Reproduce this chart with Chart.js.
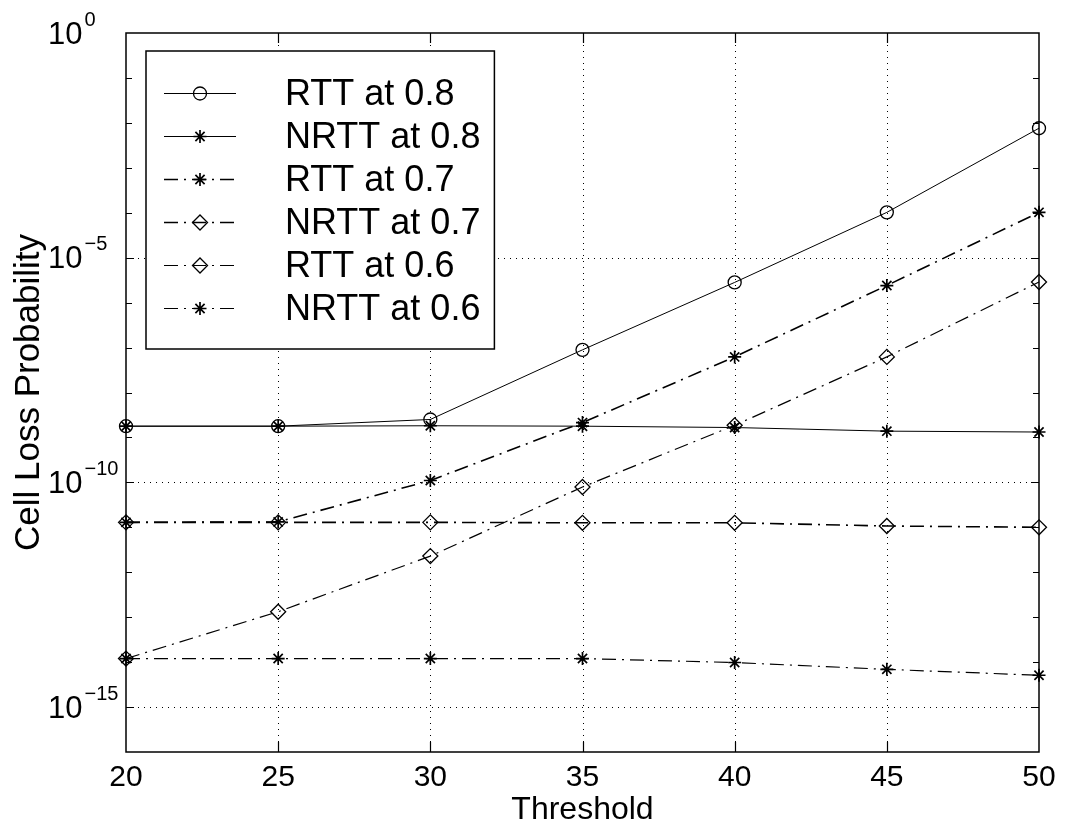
<!DOCTYPE html>
<html>
<head>
<meta charset="utf-8">
<script src="https://cdn.jsdelivr.net/npm/chart.js@4.4.0/dist/chart.umd.min.js"></script>
<style>
  html, body { margin: 0; padding: 0; background: #fff; }
  #wrap { width: 1069px; height: 829px; }
</style>
</head>
<body>
<div id="wrap"><canvas id="chart" width="1069" height="829"></canvas></div>
<script>
// thresholds on the x axis
const thresholds = [20, 25, 30, 35, 40, 45, 50];

// cell loss probability
const rtt08  = [1.78e-9, 1.78e-9, 2.51e-9, 8.9e-8, 2.82e-6, 1.02e-4, 7.6e-3];
const nrtt08 = [1.78e-9, 1.78e-9, 1.82e-9, 1.78e-9, 1.66e-9, 1.38e-9, 1.32e-9];
const rtt07  = [1.29e-11, 1.32e-11, 1.10e-10, 2.14e-9, 6.2e-8, 2.4e-6, 1.02e-4];
const nrtt07 = [1.29e-11, 1.29e-11, 1.29e-11, 1.26e-11, 1.26e-11, 1.07e-11, 1.0e-11];
const rtt06  = [1.2e-14, 1.32e-13, 2.29e-12, 7.9e-11, 1.86e-9, 6.2e-8, 2.88e-6];
const nrtt06 = [1.2e-14, 1.2e-14, 1.2e-14, 1.2e-14, 9.8e-15, 6.9e-15, 5.1e-15];

const seriesLabels = ['RTT at 0.8', 'NRTT at 0.8', 'RTT at 0.7', 'NRTT at 0.7', 'RTT at 0.6', 'NRTT at 0.6'];
const yLabelExponents = [0, -5, -10, -15];
const xTickValues = [20, 25, 30, 35, 40, 45, 50];

const FONT = '"Liberation Sans", Arial, Helvetica, sans-serif';
const dashDot = [14, 6, 2, 6];

function pts(arr) {
  return thresholds.map((t, i) => ({ x: t, y: arr[i] }));
}

function makeSet(label, arr, style, dash, width) {
  return {
    label: label,
    data: pts(arr),
    borderColor: '#000',
    backgroundColor: 'rgba(0,0,0,0)',
    borderWidth: width,
    borderDash: dash,
    pointStyle: style,
    pointRadius: style === 'rectRot' ? 7.5 : 6.5,
    pointBorderColor: '#000',
    pointBackgroundColor: 'rgba(0,0,0,0)',
    pointBorderWidth: style === 'star' ? 1.7 : 1.3,
    tension: 0,
    clip: false
  };
}

// grid, box, inward ticks, y labels and legend in MATLAB style
const matlabAxes = {
  id: 'matlabAxes',
  beforeDatasetsDraw(chart) {
    const { ctx, chartArea: a, scales: { x, y } } = chart;
    ctx.save();
    ctx.strokeStyle = '#000';
    ctx.lineWidth = 1;
    ctx.setLineDash([1, 5]);
    xTickValues.slice(1, -1).forEach(v => {
      const px = Math.round(x.getPixelForValue(v)) + 0.5;
      ctx.beginPath(); ctx.moveTo(px, a.top); ctx.lineTo(px, a.bottom); ctx.stroke();
    });
    yLabelExponents.filter(e => e !== 0).forEach(e => {
      const py = Math.round(y.getPixelForValue(Math.pow(10, e))) + 0.5;
      ctx.beginPath(); ctx.moveTo(a.left, py); ctx.lineTo(a.right, py); ctx.stroke();
    });
    ctx.restore();
  },
  afterDatasetsDraw(chart) {
    const { ctx, chartArea: a, scales: { x, y } } = chart;
    ctx.save();
    ctx.strokeStyle = '#000';
    ctx.lineWidth = 1.5;
    ctx.setLineDash([]);
    ctx.strokeRect(a.left, a.top, a.right - a.left, a.bottom - a.top);

    // x ticks, bottom and top
    ctx.lineWidth = 1.2;
    xTickValues.slice(1, -1).forEach(v => {
      const px = Math.round(x.getPixelForValue(v)) + 0.5;
      ctx.beginPath();
      ctx.moveTo(px, a.bottom); ctx.lineTo(px, a.bottom - 10);
      ctx.moveTo(px, a.top); ctx.lineTo(px, a.top + 10);
      ctx.stroke();
    });
    // y ticks at every decade, left and right
    for (let e = -15; e <= -1; e++) {
      const py = Math.round(y.getPixelForValue(Math.pow(10, e))) + 0.5;
      const len = e % 5 === 0 ? 8 : 6;
      ctx.beginPath();
      ctx.moveTo(a.left, py); ctx.lineTo(a.left + len, py);
      ctx.moveTo(a.right, py); ctx.lineTo(a.right - len, py);
      ctx.stroke();
    }

    // y labels 10^n
    ctx.fillStyle = '#000';
    ctx.textBaseline = 'middle';
    ctx.textAlign = 'left';
    yLabelExponents.forEach(e => {
      const py = y.getPixelForValue(Math.pow(10, e));
      ctx.font = '31px ' + FONT;
      ctx.fillText('10', 48, py + 2);
      const w = ctx.measureText('10').width;
      ctx.font = '20px ' + FONT;
      ctx.fillText(e === 0 ? '0' : '\u2212' + (-e), 48 + w + 2, py - 13);
    });

    // legend
    const sets = chart.data.datasets;
    const boxL = 146, boxT = 51, rowH = 43, firstRow = 93;
    const lineX0 = 164, lineX1 = 236, markX = 200, textX = 285;
    ctx.font = '36px ' + FONT;
    const maxW = Math.max(...sets.map(s => ctx.measureText(s.label).width));
    const boxR = textX + maxW + 14;
    const boxB = firstRow + rowH * (sets.length - 1) + 41;
    ctx.fillStyle = '#fff';
    ctx.fillRect(boxL, boxT, boxR - boxL, boxB - boxT);
    ctx.lineWidth = 1.5;
    ctx.strokeStyle = '#000';
    ctx.strokeRect(boxL, boxT, boxR - boxL, boxB - boxT);
    sets.forEach((s, i) => {
      const ry = firstRow + rowH * i;
      ctx.save();
      ctx.lineWidth = s.borderWidth;
      ctx.setLineDash(s.borderDash);
      ctx.beginPath(); ctx.moveTo(lineX0, ry + 0.5); ctx.lineTo(lineX1, ry + 0.5); ctx.stroke();
      ctx.restore();
      ctx.save();
      ctx.lineWidth = s.pointBorderWidth;
      ctx.strokeStyle = '#000';
      ctx.fillStyle = 'rgba(0,0,0,0)';
      Chart.helpers.drawPoint(ctx, { pointStyle: s.pointStyle, radius: s.pointRadius, rotation: 0, borderWidth: s.pointBorderWidth }, markX, ry + 0.5);
      ctx.restore();
      ctx.fillStyle = '#000';
      ctx.font = '36px ' + FONT;
      ctx.textBaseline = 'middle';
      ctx.fillText(s.label, textX, ry + 2);
    });
    ctx.restore();
  }
};

new Chart(document.getElementById('chart'), {
  type: 'line',
  data: {
    datasets: [
      makeSet(seriesLabels[0], rtt08, 'circle', [], 1),
      makeSet(seriesLabels[1], nrtt08, 'star', [], 1),
      makeSet(seriesLabels[2], rtt07, 'star', dashDot, 1.6),
      makeSet(seriesLabels[3], nrtt07, 'rectRot', dashDot, 1.6),
      makeSet(seriesLabels[4], rtt06, 'rectRot', dashDot, 1.2),
      makeSet(seriesLabels[5], nrtt06, 'star', dashDot, 1.2)
    ]
  },
  options: {
    responsive: false,
    animation: false,
    devicePixelRatio: 1,
    layout: { padding: { left: 0, right: 30, top: 33, bottom: 0 } },
    plugins: { legend: { display: false }, tooltip: { enabled: false } },
    scales: {
      x: {
        type: 'linear',
        min: 20,
        max: 50,
        afterBuildTicks: s => { s.ticks = xTickValues.map(v => ({ value: v })); },
        afterFit: s => { s.height = 77; },
        grid: { display: false, drawTicks: false },
        border: { display: false },
        ticks: { color: '#000', padding: 8, font: { family: FONT, size: 30 }, maxRotation: 0 },
        title: { display: true, text: 'Threshold', color: '#000', font: { family: FONT, size: 32 }, padding: { top: 0, bottom: 0 } }
      },
      y: {
        type: 'logarithmic',
        min: 1e-16,
        max: 1,
        afterFit: s => { s.width = 126; },
        grid: { display: false, drawTicks: false },
        border: { display: false },
        ticks: { display: false },
        title: { display: true, text: 'Cell Loss Probability', color: '#000', font: { family: FONT, size: 35 }, padding: { top: 8, bottom: 0 } }
      }
    }
  },
  plugins: [matlabAxes]
});
</script>
</body>
</html>
